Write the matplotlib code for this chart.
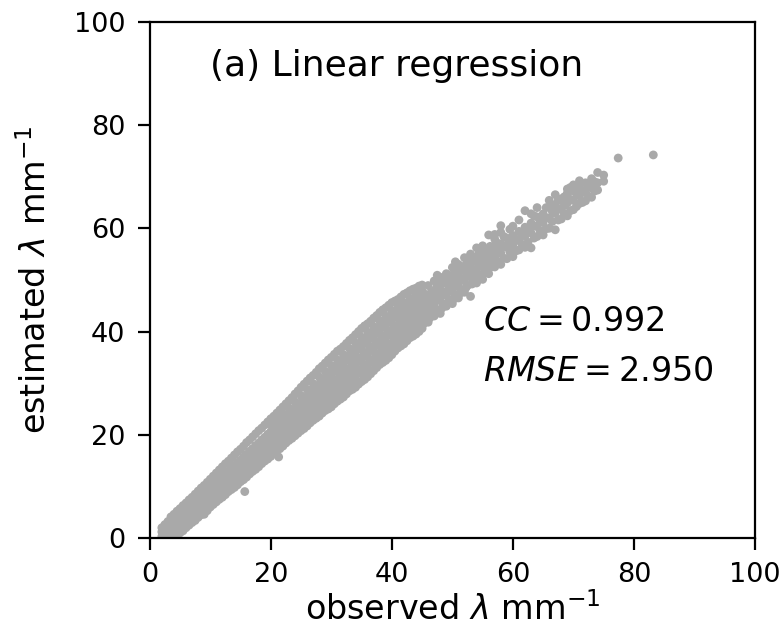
"""Scatter of estimated vs observed lambda (linear regression panel)."""
import matplotlib
matplotlib.use("Agg")
import matplotlib.pyplot as plt

# observed lambda (column positions) and the estimated values
obs_cols = [2, 3, 4, 5, 6, 7, 8, 9, 10, 11, 12, 13, 14, 15, 15.7, 16, 17, 18, 19, 20,
            21, 21.3, 22, 23, 24, 25, 26, 27, 28, 29, 30, 31, 32, 33, 34, 35, 36, 37,
            38, 39, 40, 41, 42, 43, 44, 45, 46, 47, 48, 49, 50, 51, 52, 53, 54, 55,
            56, 57, 58, 59, 60, 61, 62, 63, 64, 65, 66, 67, 68, 69, 70, 71, 72, 73,
            74, 75, 77.4, 83.2]
est_cols = [
    [0.3, 1.2, 2.0],
    [0.2, 1.0, 2.1, 3.2],
    [0.4, 1.5, 2.6, 3.6, 4.6],
    [1.0, 2.2, 3.3, 4.4, 5.7],
    [2.0, 3.1, 4.3, 5.4, 6.8],
    [3.0, 4.2, 5.3, 6.5, 7.9],
    [4.0, 5.1, 6.3, 7.6, 9.1],
    [4.6, 6.0, 7.2, 8.6, 10.2],
    [6.0, 7.2, 8.4, 9.7, 11.4],
    [7.0, 8.2, 9.5, 10.8, 12.6],
    [7.9, 9.1, 10.4, 11.8, 13.8],
    [9.0, 10.2, 11.5, 12.9, 14.9],
    [9.8, 11.1, 12.5, 14.0, 16.1],
    [10.9, 12.2, 13.6, 15.1, 17.2],
    [9.0],
    [11.8, 13.2, 14.6, 16.2, 18.5],
    [12.9, 14.3, 15.7, 17.3, 19.6],
    [13.8, 15.2, 16.8, 18.4, 20.8],
    [14.9, 16.3, 17.8, 19.5, 21.9],
    [15.8, 17.3, 18.9, 20.6, 22.0, 23.1],
    [16.9, 18.4, 20.0, 21.7, 23.0, 24.2],
    [15.7],
    [17.8, 19.4, 21.0, 22.8, 24.1, 25.4],
    [18.9, 20.5, 22.1, 23.9, 25.2, 26.6],
    [19.8, 21.4, 23.2, 25.0, 26.4, 27.9],
    [20.8, 22.5, 24.3, 26.1, 27.6, 29.2],
    [21.7, 23.5, 25.4, 27.3, 28.8, 30.4],
    [22.8, 24.6, 26.5, 28.4, 29.9, 31.5],
    [23.6, 25.5, 27.5, 29.6, 31.2, 32.8],
    [24.7, 26.6, 28.6, 30.7, 32.3, 33.9],
    [25.4, 27.5, 29.6, 31.8, 33.4, 35.0],
    [26.5, 28.5, 30.7, 32.9, 34.5, 36.2],
    [27.3, 29.4, 31.6, 34.0, 35.5, 37.1],
    [28.5, 30.6, 32.8, 35.1, 36.7, 38.3],
    [29.2, 31.5, 33.8, 36.2, 37.8, 39.4],
    [30.3, 32.6, 34.8, 37.3, 38.9, 40.6],
    [31.2, 33.5, 35.9, 38.4, 39.9, 41.5],
    [32.4, 34.6, 36.9, 39.4, 41.0, 42.6],
    [33.6, 35.6, 37.9, 40.5, 42.1, 43.7],
    [34.4, 36.6, 38.8, 41.4, 43.0, 44.6],
    [35.5, 37.6, 39.9, 42.4, 44.0, 45.6],
    [36.8, 38.7, 40.9, 43.3, 44.8, 46.2],
    [37.6, 39.6, 41.8, 44.1, 45.6, 47.2],
    [38.8, 40.6, 42.7, 45.0, 46.4, 47.9],
    [39.5, 41.5, 43.6, 45.9, 47.1, 48.4],
    [40.6, 42.4, 44.5, 46.6, 47.8, 49.0],
    [41.8, 44.1, 46.3, 48.9],
    [43.0, 45.2, 47.4, 49.8],
    [43.5, 46.0, 48.1, 50.5],
    [44.9, 47.0, 49.3, 51.2],
    [45.4, 47.8, 50.0, 52.4],
    [46.5, 48.7, 51.1, 53.0],
    [47.6, 49.8, 51.8, 54.3],
    [46.8, 50.6, 52.5, 55.0],
    [49.4, 51.5, 53.6, 56.2],
    [50.1, 52.6, 54.5, 56.6],
    [51.2, 53.3, 55.2, 58.7],
    [52.5, 54.4, 56.1, 57.9, 58.8],
    [53.0, 55.2, 57.0, 59.2, 60.5],
    [54.1, 56.3, 58.1],
    [54.5, 56.8, 58.6, 60.4],
    [55.8, 57.6, 59.4, 61.6],
    [56.3, 58.5, 60.2, 63.4],
    [56.2, 59.1, 61.0, 62.8],
    [58.4, 60.3, 62.2, 64.0],
    [58.7, 61.1, 62.8],
    [60.0, 62.0, 64.1, 65.4],
    [59.7, 62.9, 64.6, 66.5],
    [61.8, 63.8, 65.7],
    [62.4, 64.9, 66.8, 67.6],
    [63.6, 65.4, 67.2, 68.4],
    [64.8, 66.3, 68.0, 69.2],
    [65.3, 66.9, 68.8],
    [66.0, 67.8, 69.6],
    [67.4, 68.8, 70.8],
    [69.1, 70.3],
    [73.6],
    [74.2],
]

# in-between columns
obs_half = [2.5, 3.5, 4.5, 5.5, 6.5, 7.5, 8.5, 9.5, 10.5, 11.5, 12.5, 13.5, 14.5,
            15.5, 16.5, 17.5, 18.5, 19.5, 20.5, 21.5, 22.5, 23.5, 24.5, 25.5, 26.5,
            27.5, 28.5, 29.5, 30.5, 31.5, 32.5, 33.5, 34.5, 35.5, 36.5, 37.5, 38.5,
            39.5, 40.5, 41.5, 42.5, 43.5, 44.5, 46.5, 47.5, 48.5, 49.5, 50.5, 51.5,
            52.5, 53.5, 54.5, 55.5, 57.5, 58.5, 60.5, 62.5, 64.5, 66.5, 68.5, 70.5,
            72.5, 73.5]
est_half = [
    [0.2, 0.9, 1.7, 2.6],
    [0.3, 1.3, 2.4, 3.4, 4.1],
    [0.6, 1.9, 3.0, 4.0, 5.2],
    [1.4, 2.7, 3.8, 4.9, 6.3],
    [2.5, 3.6, 4.8, 6.0, 7.4],
    [3.4, 4.7, 5.8, 7.1, 8.5],
    [4.5, 5.6, 6.8, 8.1, 9.7],
    [5.3, 6.6, 7.8, 9.2, 10.8],
    [6.5, 7.7, 9.0, 10.3, 12.0],
    [7.5, 8.7, 10.0, 11.3, 13.2],
    [8.4, 9.7, 11.0, 12.4, 14.4],
    [9.4, 10.6, 12.0, 13.5, 15.5],
    [10.3, 11.7, 13.1, 14.6, 16.7],
    [11.3, 12.7, 14.1, 15.7, 17.8],
    [12.4, 13.8, 15.2, 16.8, 19.0],
    [13.3, 14.7, 16.3, 17.9, 20.2],
    [14.4, 15.8, 17.3, 19.0, 21.3],
    [15.3, 16.8, 18.4, 20.1, 22.5],
    [16.4, 17.9, 19.5, 21.2, 23.6],
    [17.3, 18.9, 20.5, 22.3, 24.8],
    [18.4, 20.0, 21.6, 23.4, 26.0],
    [19.3, 20.9, 22.7, 24.5, 27.2],
    [20.3, 22.0, 23.8, 25.6, 28.5],
    [21.2, 23.0, 24.9, 26.7, 29.8],
    [22.3, 24.1, 26.0, 27.9, 31.0],
    [23.2, 25.1, 27.0, 29.0, 32.1],
    [24.2, 26.0, 28.1, 30.2, 33.3],
    [25.0, 27.1, 29.1, 31.3, 34.5],
    [26.0, 28.0, 30.2, 32.4, 35.6],
    [26.9, 29.0, 31.2, 33.5, 36.6],
    [27.9, 30.0, 32.2, 34.6, 37.7],
    [28.8, 31.1, 33.3, 35.7, 38.8],
    [29.8, 32.0, 34.3, 36.8, 40.0],
    [30.7, 33.1, 35.4, 37.8, 41.1],
    [31.8, 34.1, 36.4, 38.9, 42.0],
    [33.0, 35.1, 37.4, 40.0, 43.1],
    [34.0, 36.1, 38.3, 40.9, 44.2],
    [34.9, 37.1, 39.4, 41.9, 45.1],
    [36.2, 38.1, 40.4, 42.9, 45.9],
    [37.2, 39.2, 41.3, 43.7, 46.7],
    [38.2, 40.1, 42.2, 44.6, 47.5],
    [39.1, 41.0, 43.2, 45.5, 48.2],
    [40.0, 42.0, 44.0, 46.3, 48.8],
    [43.2, 45.5, 47.6],
    [44.1, 46.3, 48.9, 50.9],
    [45.3, 47.6, 49.8],
    [46.2, 48.4, 50.8],
    [47.1, 49.5, 51.6, 53.5],
    [48.0, 50.2, 52.4],
    [48.9, 51.2, 53.3],
    [49.8, 51.9, 54.2],
    [50.9, 53.0, 55.3],
    [51.7, 53.8, 55.9],
    [53.6, 55.6],
    [54.2, 56.6, 58.4],
    [55.6, 57.9],
    [57.3, 59.6],
    [59.5, 61.5],
    [61.3, 63.3],
    [62.8, 64.4, 66.1],
    [64.2, 66.8],
    [66.2, 68.1],
    [67.2, 69.0],
]

# extra points filling the middle of the band between 22 and 72
obs_fill = [22.25, 23.25, 24.25, 25.25, 26.25, 27.25, 28.25, 29.25, 30.25, 31.25,
            32.25, 33.25, 34.25, 35.25, 36.25, 37.25, 38.25, 39.25, 40.25, 41.25,
            42.25, 43.25, 44.25, 45.25, 46.25, 47.25, 48.25, 49.25, 50.25, 51.25,
            52.25, 53.25, 54.25, 55.25, 56.25, 57.25, 59.5, 61.5, 63.5, 65.5, 67.5,
            69.5, 71.5]
est_fill = [
    [18.7, 20.3, 22.0, 23.5],
    [19.8, 21.4, 23.1, 24.6],
    [20.7, 22.4, 24.2, 25.8],
    [21.7, 23.5, 25.3, 26.9],
    [22.7, 24.5, 26.4, 28.1],
    [23.7, 25.6, 27.5, 29.2],
    [24.6, 26.6, 28.6, 30.5],
    [25.7, 27.7, 29.7, 31.6],
    [26.5, 28.6, 30.8, 32.7],
    [27.5, 29.6, 31.9, 33.8],
    [28.4, 30.6, 32.9, 34.8],
    [29.6, 31.7, 34.0, 35.9],
    [30.4, 32.7, 35.0, 37.1],
    [31.5, 33.7, 36.1, 38.2],
    [32.4, 34.7, 37.2, 39.2],
    [33.5, 35.8, 38.2, 40.3],
    [34.6, 36.8, 39.2, 41.4],
    [35.5, 37.7, 40.2, 42.3],
    [36.6, 38.8, 41.2, 43.3],
    [37.8, 39.8, 42.1, 44.2],
    [38.6, 40.7, 43.0, 45.0],
    [39.7, 41.7, 43.9, 45.8],
    [40.5, 42.6, 44.8, 46.5],
    [41.5, 43.5, 45.6, 47.4],
    [42.6, 44.8, 47.0],
    [43.8, 46.0, 48.2],
    [44.5, 47.0, 49.3],
    [45.6, 48.0, 50.3],
    [46.3, 48.9, 51.2],
    [47.4, 49.9, 52.0],
    [48.5, 50.6, 53.0],
    [49.2, 51.4, 53.8],
    [50.4, 52.5, 54.8],
    [51.4, 53.4, 55.6],
    [52.4, 54.3, 56.5],
    [53.4, 55.3, 57.3],
    [55.4, 57.3, 59.8],
    [56.9, 58.9],
    [58.1, 60.5, 62.4],
    [59.9, 62.0, 64.0],
    [61.6, 63.7, 65.4],
    [63.4, 65.6, 67.9],
    [65.0, 67.3],
]

panel_title = "(a) Linear regression"
cc_value = 0.992
rmse_value = 2.950
ticks = [0, 20, 40, 60, 80, 100]

all_obs = obs_cols + obs_half + obs_fill
all_est = est_cols + est_half + est_fill
observed = [o for o, col in zip(all_obs, all_est) for _ in col]
estimated = [e for col in all_est for e in col]

fig = plt.figure(figsize=(7.84, 6.39), dpi=100)
ax = fig.add_axes([0.191, 0.158, 0.772, 0.808])
ax.scatter(observed, estimated, s=40, color="darkgray", edgecolors="none")

ax.set_xlim(0, 100); ax.set_ylim(0, 100)
ax.set_xticks(ticks); ax.set_yticks(ticks)
ax.tick_params(labelsize=19.5, width=1.6, length=8.5, pad=9)
for sp in ax.spines.values():
    sp.set_linewidth(1.6)

ax.set_xlabel(r"observed $\lambda$ mm$^{-1}$", fontsize=24, labelpad=3)
ax.set_ylabel(r"estimated $\lambda$ mm$^{-1}$", fontsize=24, labelpad=15)

ax.text(10, 91.5, panel_title, fontsize=26, va="center")
ax.text(55, 41.9, rf"$CC = {cc_value:.3f}$", fontsize=24, va="center")
ax.text(55, 32.2, rf"$RMSE = {rmse_value:.3f}$", fontsize=24, va="center")

fig.savefig("out.png", dpi=100)
